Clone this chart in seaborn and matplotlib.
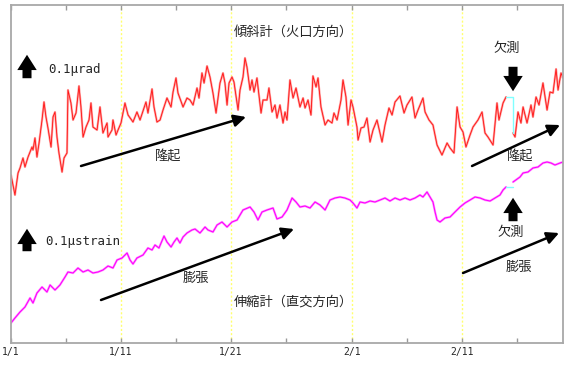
import numpy as np
import pandas as pd
import matplotlib
matplotlib.use("Agg")
import matplotlib.pyplot as plt
import seaborn as sns
from matplotlib.patches import FancyArrowPatch

sns.set_style("white")
plt.rcParams['font.family'] = ['Noto Sans CJK JP', 'DejaVu Sans']

# ---- data (days since 1/1, relative units of 0.1 micro) ----
tilt_days_a = [0.00, 0.36, 0.64, 0.82, 1.09, 1.27, 1.55, 1.91, 2.00, 2.18, 2.36, 2.55, 2.82, 3.00, 3.18,
               3.36, 3.64, 3.82, 4.00, 4.18, 4.36, 4.64, 4.82, 5.09, 5.18, 5.45, 5.64, 5.91, 6.18, 6.36,
               6.55, 6.82, 7.09, 7.27, 7.45, 7.82, 8.09, 8.36, 8.73, 8.82, 9.18, 9.27, 9.55, 9.73, 10.00,
               10.36, 10.64, 11.09, 11.45, 11.73, 12.27, 12.45, 12.82, 13.00, 13.27, 13.55, 13.82, 14.18,
               14.55, 14.73, 15.00, 15.18, 15.64, 16.00, 16.27, 16.55, 16.91, 17.09, 17.36, 17.55, 17.82,
               18.09, 18.36, 18.64, 19.00, 19.27, 19.45, 19.64, 19.82, 20.09, 20.27, 20.64, 20.82, 21.09,
               21.27, 21.45, 21.73, 21.91, 22.09, 22.36, 22.73, 22.91, 23.27, 23.45, 23.73, 24.00, 24.18,
               24.45, 24.73, 24.91, 25.09, 25.36, 25.64, 25.91, 26.27, 26.55, 26.73, 27.00, 27.27, 27.45,
               27.73, 27.91, 28.18, 28.55, 28.82, 29.18, 29.36, 29.64, 30.00, 30.18, 30.45, 30.64, 30.91,
               31.09, 31.45, 31.55, 31.82, 32.09, 32.36, 32.64, 32.91, 33.27, 33.73, 34.00, 34.36, 34.64,
               34.91, 35.36, 35.73, 36.00, 36.45, 36.73, 37.00, 37.45, 37.64, 38.00, 38.36, 38.73, 39.18,
               39.64, 39.91, 40.27, 40.55, 40.82, 41.09, 41.36, 41.73, 42.00, 42.45, 42.82, 43.09, 43.36,
               43.82, 44.18, 44.36, 44.73, 45.00]
tilt_vals_a = [168, 148, 170, 175, 185, 176, 186, 196, 193, 205, 186, 200, 223, 241, 226,
               215, 196, 226, 231, 206, 190, 171, 185, 190, 253, 240, 223, 230, 257, 236,
               206, 216, 223, 240, 216, 213, 236, 210, 220, 206, 213, 223, 208, 213, 220,
               240, 228, 221, 231, 223, 241, 230, 254, 236, 221, 223, 233, 245,
               236, 251, 265, 250, 236, 245, 243, 238, 255, 245, 270, 260, 277,
               266, 250, 230, 260, 270, 260, 238, 260, 266, 261, 233, 253, 266,
               285, 276, 253, 263, 251, 265, 230, 243, 243, 255, 231, 238, 225,
               238, 220, 231, 223, 263, 245, 255, 236, 245, 235, 243, 228, 267,
               256, 265, 236, 218, 223, 220, 230, 223, 243, 263, 246, 218, 243,
               236, 216, 203, 215, 216, 225, 201, 213, 223, 201, 218, 235, 228,
               241, 247, 230, 238, 246, 225, 233, 245, 231, 223, 218, 198, 188,
               200, 195, 190, 236, 216, 211, 196, 208, 216, 223, 231, 210, 206,
               198, 240, 223, 240, 246]
tilt_days_b = [45.64, 45.82, 46.09, 46.36, 46.55, 46.91, 47.27, 47.45, 47.73, 48.00, 48.36, 48.73,
               49.00, 49.27, 49.55, 49.73, 50.00, 50.18]
tilt_vals_b = [210, 206, 231, 220, 236, 220, 238, 226, 246, 238, 260, 233,
               251, 250, 274, 253, 270, 265]

strain_days_a = [0.00, 0.36, 0.82, 1.27, 1.73, 2.00, 2.36, 2.82, 3.27, 3.55, 4.00, 4.45, 4.91, 5.18,
                 5.64, 6.09, 6.55, 7.00, 7.45, 7.91, 8.36, 8.82, 9.27, 9.64, 10.09, 10.55, 10.82, 11.09,
                 11.45, 12.00, 12.45, 12.82, 13.09, 13.45, 13.91, 14.18, 14.55, 14.82, 15.09, 15.36, 15.64,
                 16.00, 16.45, 16.73, 17.18, 17.64, 17.91, 18.36, 18.73, 19.18, 19.64, 20.09, 20.55, 21.09,
                 21.73, 22.09, 22.45, 22.82, 23.27, 23.82, 24.18, 24.64, 25.09, 25.55, 25.91, 26.27, 26.73,
                 27.18, 27.64, 28.09, 28.55, 29.00, 29.45, 29.91, 30.36, 30.82, 31.09, 31.45, 31.73, 32.18,
                 32.64, 33.09, 33.55, 34.00, 34.45, 34.91, 35.36, 35.82, 36.27, 36.73, 37.18, 37.45, 37.82,
                 38.09, 38.36, 38.55, 38.73, 39.00, 39.45, 39.91, 40.36, 40.82, 41.27, 41.73, 42.18, 42.64,
                 43.09, 43.55, 44.00, 44.45, 44.73, 45.00]
strain_vals_a = [20, 25, 31, 36, 45, 40, 50, 56, 51, 58, 53, 58, 66, 71,
                 70, 75, 71, 73, 70, 71, 73, 77, 75, 83, 85, 90, 83, 79,
                 85, 88, 95, 93, 98, 95, 107, 101, 96, 101, 105, 100, 106,
                 110, 113, 114, 110, 116, 113, 111, 118, 121, 116, 121, 123, 133,
                 136, 131, 123, 131, 133, 135, 124, 126, 133, 145, 141, 136, 137,
                 135, 141, 138, 133, 143, 145, 146, 145, 143, 140, 135, 141, 140,
                 142, 141, 143, 145, 142, 145, 143, 145, 143, 145, 148, 146, 151,
                 146, 141, 131, 123, 121, 125, 126, 131, 136, 140, 143, 146, 145,
                 143, 142, 145, 148, 153, 156]
strain_days_b = [45.64, 46.27, 46.55, 47.00, 47.45, 47.91, 48.36, 48.73, 49.09, 49.45, 49.91, 50.18]
strain_vals_b = [161, 166, 170, 171, 175, 176, 180, 181, 180, 178, 180, 181]

gap_days = [45.00, 45.64]

tick_days = [0, 10, 20, 31, 41]
tick_labels = ["1/1", "1/11", "1/21", "2/1", "2/11"]
minor_days = [5, 15, 25, 36, 46]

# ---- figure ----
fig = plt.figure(figsize=(5.86, 3.65), dpi=100)
W, H = 586, 365
ax = fig.add_axes([11 / W, (H - 343) / H, 552 / W, 338 / H])
ax.set_xlim(0, 50.18)
ax.set_ylim(0, 338)

for d in tick_days[1:]:
    ax.axvline(d, color="#ffff70", lw=1.0, ls=(0, (1.5, 1.5)), zorder=0)

def seg(days, vals, color, lw, alpha=1.0):
    df = pd.DataFrame({"day": days, "val": vals})
    sns.lineplot(data=df, x="day", y="val", ax=ax, color=color, lw=lw, alpha=alpha,
                 estimator=None, sort=False, legend=False)

seg(tilt_days_a, tilt_vals_a, "#ffa0a0", 1.6)
seg(tilt_days_a, tilt_vals_a, "#ff1010", 0.6)
seg(tilt_days_b, tilt_vals_b, "#ffa0a0", 1.6)
seg(tilt_days_b, tilt_vals_b, "#ff1010", 0.6)
seg([gap_days[0], gap_days[1], gap_days[1]], [tilt_vals_a[-1], tilt_vals_a[-1], tilt_vals_b[0]], "#80ffff", 1.0)

seg(strain_days_a, strain_vals_a, "#ffa0ff", 1.7)
seg(strain_days_a, strain_vals_a, "#ff00ff", 0.8)
seg(strain_days_b, strain_vals_b, "#ffa0ff", 1.7)
seg(strain_days_b, strain_vals_b, "#ff00ff", 0.8)
seg([gap_days[0], gap_days[1]], [strain_vals_a[-1], strain_vals_a[-1]], "#80ffff", 1.0)

ax.set_xlabel("")
ax.set_ylabel("")
ax.set_yticks([])
ax.set_xticks(tick_days)
ax.set_xticklabels(tick_labels, family="DejaVu Sans Mono", fontsize=7)
ax.set_xticks(minor_days, minor=True)
ax.tick_params(axis="x", which="both", direction="in", top=True, bottom=True,
               length=3.5, width=1, color="#999999", pad=3)
for s in ax.spines.values():
    s.set_color("#a8a8a8")
    s.set_linewidth(1.3)

# helper: pixel coords -> data coords
def P(px, py):
    return ((px - 11) / 11.0, 343 - py)

# block arrows
def block(p0, p1):
    a = FancyArrowPatch(P(*p0), P(*p1), arrowstyle="simple,head_width=14,head_length=11,tail_width=6.5",
                        mutation_scale=1, color="black", lw=0, zorder=5)
    ax.add_patch(a)

block((27, 81), (27, 52))
block((27, 254), (27, 226))
block((513, 64), (513, 94))
block((513, 224), (513, 195))

# thin arrows
def thin(p0, p1):
    ax.annotate("", xy=P(*p1), xytext=P(*p0),
                arrowprops=dict(arrowstyle="-|>,head_length=0.6,head_width=0.3", color="black",
                                lw=1.8, mutation_scale=12, shrinkA=0, shrinkB=0))

thin((81, 166), (246, 117))
thin((472, 166), (560, 125))
thin((101, 300), (294, 229))
thin((463, 273), (559, 233))

def txt(px, py, s, **kw):
    ax.text(*P(px, py), s, ha=kw.pop("ha", "center"), va="center", fontsize=kw.pop("fontsize", 9.5), **kw)

txt(48, 69, "0.1μrad", ha="left", family="DejaVu Sans Mono", fontsize=9)
txt(45, 242, "0.1μstrain", ha="left", family="DejaVu Sans Mono", fontsize=9)
txt(293, 32, "傾斜計（火口方向）")
txt(293, 302, "伸縮計（直交方向）")
txt(168, 157, "隆起")
txt(520, 157, "隆起")
txt(507, 48, "欠測")
txt(511, 232, "欠測")
txt(196, 278, "膨張")
txt(519, 267, "膨張")

fig.savefig("out.png", dpi=100)
